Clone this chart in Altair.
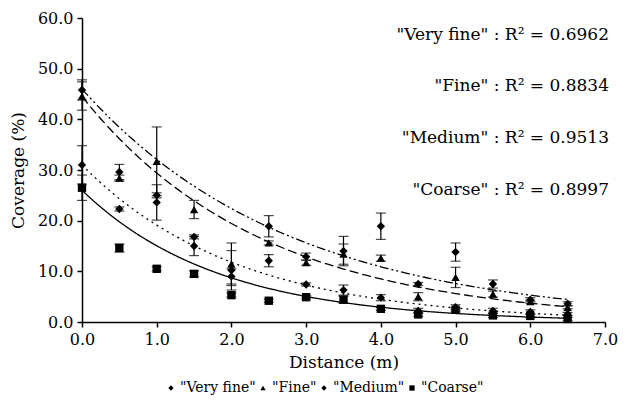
import altair as alt
import pandas as pd

distance = [0.0, 0.5, 1.0, 1.5, 2.0, 2.5, 3.0, 3.5, 4.0, 4.5, 5.0, 5.5, 6.0, 6.5]
series_names = ['"Very fine"', '"Fine"', '"Medium"', '"Coarse"']
very_fine = [45.8, 29.6, 25.0, 16.8, 10.2, 18.9, 12.9, 14.0, 18.9, 7.5, 13.8, 7.5, 4.4, 3.6]
very_fine_err = [2.0, 1.5, 0.5, 0.4, 3.9, 2.1, 0.7, 2.9, 2.6, 0.3, 1.8, 0.8, 0.4, 0.4]
fine = [44.6, 28.4, 31.7, 22.2, 11.4, 15.6, 11.7, 13.4, 12.6, 5.0, 8.8, 5.5, 4.0, 2.9]
fine_err = [2.8, 0.6, 6.8, 1.8, 4.2, 0.4, 0.5, 2.0, 0.6, 0.8, 2.0, 0.6, 0.3, 0.3]
medium = [31.0, 22.3, 23.6, 15.0, 9.0, 12.1, 7.4, 6.3, 4.8, 2.2, 2.9, 2.2, 2.0, 1.6]
medium_err = [3.8, 0.4, 3.5, 1.9, 1.5, 1.2, 0.3, 1.0, 0.6, 0.5, 0.5, 0.5, 0.4, 0.3]
coarse = [26.5, 14.6, 10.5, 9.5, 5.3, 4.2, 4.9, 4.4, 2.6, 1.5, 2.4, 1.3, 1.2, 0.6]
coarse_err = [2.5, 0.8, 0.4, 0.6, 0.4, 0.3, 0.3, 0.7, 0.3, 0.4, 0.4, 0.4, 0.3, 0.3]
# fitted exponential-decay trend lines (y = a * exp(-b * x))
fit_a = [46.0, 44.5, 31.0, 26.0]
fit_b = [0.36, 0.414, 0.483, 0.547]
fit_dash = [[9, 3, 2, 3, 2, 3], [9, 4], [2, 4], [1, 0]]
r2_labels = ['"Very fine" : R² = 0.6962', '"Fine" : R² = 0.8834',
             '"Medium" : R² = 0.9513', '"Coarse" : R² = 0.8997']
r2_y = [56.6, 46.5, 36.4, 26.1]
x_ticks = [0, 1, 2, 3, 4, 5, 6, 7]
y_ticks = [0, 10, 20, 30, 40, 50, 60]

rows = []
for name, vals, errs in zip(series_names, [very_fine, fine, medium, coarse],
                            [very_fine_err, fine_err, medium_err, coarse_err]):
    for d, v, e in zip(distance, vals, errs):
        rows.append({"series": name, "distance": d, "coverage": v, "err": e,
                     "lo": v - e, "hi": v + e})
df = pd.DataFrame(rows)

FONT = "DejaVu Serif"
YT = "Coverage (%)"
XT = "Distance (m)"
xscale = alt.Scale(domain=[0, 7], nice=False)
yscale = alt.Scale(domain=[0, 60], nice=False)
shape_scale = alt.Scale(domain=series_names,
                        range=["diamond", "triangle-up", "diamond", "square"])

axis_style = dict(labelFont=FONT, titleFont=FONT, labelFontSize=16, titleFontSize=17,
                  labelColor="black", titleColor="black", titleFontWeight="normal")
xenc = alt.X("distance:Q", title=XT, scale=xscale,
             axis=alt.Axis(values=x_ticks, format=".1f", **axis_style))
yenc = alt.Y("coverage:Q", title=YT, scale=yscale,
             axis=alt.Axis(values=y_ticks, format=".1f", **axis_style))

base = alt.Chart(df)

bars = base.mark_rule(color="black", strokeWidth=1.2).encode(
    x=xenc, y=alt.Y("lo:Q", title=YT, scale=yscale), y2="hi:Q"
)
caps_lo = base.mark_tick(color="black", thickness=1.2, size=10, orient="horizontal").encode(
    x=xenc, y=alt.Y("lo:Q", title=YT, scale=yscale)
)
caps_hi = base.mark_tick(color="black", thickness=1.2, size=10, orient="horizontal").encode(
    x=xenc, y=alt.Y("hi:Q", title=YT, scale=yscale)
)

points = base.mark_point(filled=True, color="black", opacity=1, size=70).encode(
    x=xenc, y=yenc,
    shape=alt.Shape("series:N", scale=shape_scale,
                    legend=alt.Legend(title=None, orient="none", direction="horizontal",
                                      legendX=82, legendY=363, symbolSize=28,
                                      symbolFillColor="black", symbolStrokeColor="black",
                                      labelFont=FONT, labelFontSize=14, labelColor="black",
                                      labelOffset=2, columnPadding=0, symbolOffset=0)),
)

fit_layers = []
for a, b, dash in zip(fit_a, fit_b, fit_dash):
    fit_layers.append(
        alt.Chart(alt.sequence(0, 6.51, 0.05, as_="distance"))
        .transform_calculate(coverage=f"{a} * exp(-{b} * datum.distance)")
        .mark_line(color="black", strokeWidth=1.3, strokeDash=dash)
        .encode(x=xenc, y=yenc)
    )

ann_df = pd.DataFrame({"label": r2_labels, "ypos": r2_y})
ann = alt.Chart(ann_df).mark_text(align="right", baseline="middle", font=FONT,
                                  fontSize=17, color="black", dx=4).encode(
    x=alt.datum(7.0, type="quantitative"),
    y=alt.Y("ypos:Q", title=YT, scale=yscale),
    text="label:N",
)

chart = alt.layer(*fit_layers, bars, caps_lo, caps_hi, points, ann).properties(
    width=523, height=304,
    autosize=alt.AutoSizeParams(type="none"),
    padding={"left": 82, "top": 18, "right": 21, "bottom": 89},
).configure(font=FONT).configure_view(stroke=None).configure_axis(
    domainColor="black", domainWidth=1.5, tickColor="black", tickWidth=1.5, tickSize=5,
    grid=False, labelFont=FONT, labelFontSize=16, labelColor="black", labelPadding=4,
    labelFlush=False, labelOverlap=False,
    titleFont=FONT, titleFontSize=17, titleColor="black", titleFontWeight="normal",
).configure_axisX(titlePadding=7).configure_axisY(titlePadding=10)

chart.save("out.html", embed_options={"renderer": "svg", "actions": False})
